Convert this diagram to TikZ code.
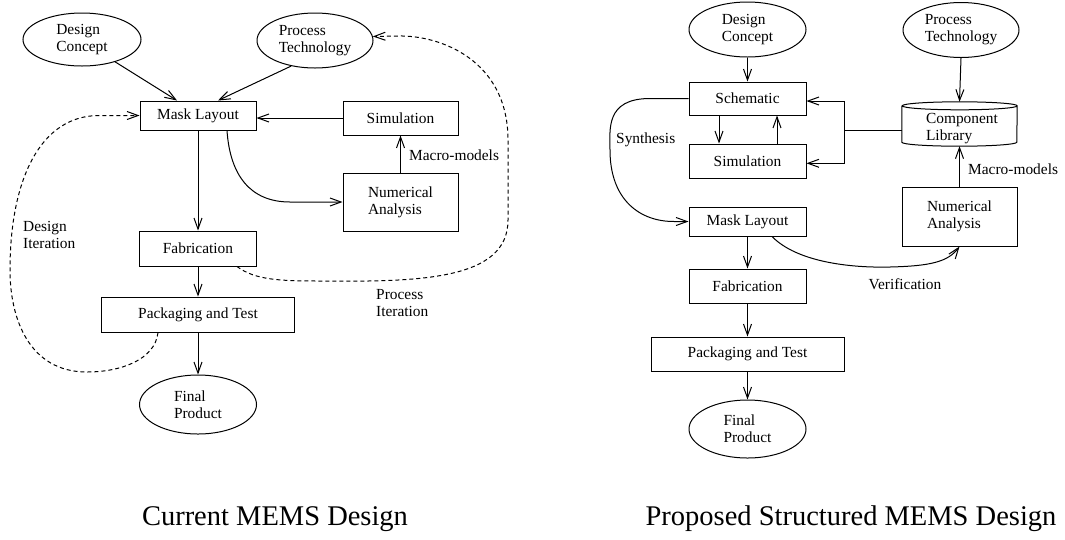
\documentclass[tikz,border=0pt]{standalone}
\usepackage{fontspec}
\setmainfont{Liberation Serif}
\usetikzlibrary{arrows.meta,shapes.geometric}
\begin{document}
\begin{tikzpicture}[x=1pt,y=-1pt,
  every node/.style={font=\fontsize{15.4}{17}\selectfont, inner sep=0pt},
  box/.style={draw, rectangle, line width=1pt},
  ell/.style={draw, ellipse, line width=1pt, align=left},
  txt/.style={align=left},
  arr/.style={line width=1pt, -{Straight Barb[length=11pt,width=8pt]}},
  ln/.style={line width=1pt},
  dsh/.style={line width=1pt, dash pattern=on 4pt off 3pt},
  lbl/.style={align=left, anchor=west},
  captxt/.style={font=\fontsize{28.5}{32}\selectfont}
]
\path[use as bounding box] (0,0) rectangle (1065,539);

% ---------------- Left: Current MEMS Design ----------------
\node[ell, minimum width=118pt, minimum height=53pt] (dc1) at (82,39.5) {Design\\Concept};
\node[ell, minimum width=116pt, minimum height=55pt] (pt1) at (315,40.5) {Process\\Technology};
\node[box, minimum width=116pt, minimum height=29pt] (ml1) at (198,115.5) {Mask Layout};
\node[box, minimum width=115pt, minimum height=34pt] (sim1) at (400.5,118) {Simulation};
\node[box, minimum width=115pt, minimum height=58pt, txt] (na1) at (400.5,202) {Numerical\\Analysis};
\node[box, minimum width=117pt, minimum height=35pt] (fab1) at (198,248.5) {Fabrication};
\node[box, minimum width=193pt, minimum height=35pt] (pk1) at (198,314.5) {Packaging and Test};
\node[ell, minimum width=117pt, minimum height=59pt] (fp1) at (198,404.5) {Final\\Product};

\draw[arr] (dc1.-34) -- ([xshift=-21pt]ml1.north);
\draw[arr] (pt1.227) -- ([xshift=20pt]ml1.north);
\draw[arr] (sim1.west) -- (sim1.west -| ml1.east);
\draw[arr] (na1.north) -- (sim1.south);
\node[lbl] (mm1) at (409,155) {Macro-models};
\draw[arr] ([xshift=29pt]ml1.south) .. controls (230,175) and (250,202) .. (290,202) -- (na1.west);
\draw[arr] (ml1.south) -- (fab1.north);
\draw[arr] (fab1.south) -- (pk1.north);
\draw[arr] (pk1.south) -- (fp1.north);

% design iteration
\draw[dsh, -{Straight Barb[length=11pt,width=8pt]}] ([xshift=-40pt]pk1.south)
  .. controls (155,360) and (120,372) .. (87,372)
  .. controls (30,372) and (10,320) .. (10,270)
  .. controls (10,180) and (40,115) .. (100,115.5) -- (ml1.west);
\node[lbl] (di1) at (23,235) {Design\\Iteration};

% process iteration
\draw[dsh, -{Straight Barb[length=11pt,width=8pt]}] ([xshift=39pt]fab1.south)
  .. controls (255,280) and (280,281) .. (320,281)
  .. controls (420,282) and (508,280) .. (508,220)
  -- (508,140)
  .. controls (508,60) and (440,35) .. (398,36) -- (pt1.4);
\node[lbl] (pi1) at (376,303) {Process\\Iteration};

\node[captxt] (c1) at (275,519) {Current MEMS Design};

% ---------------- Right: Proposed Structured MEMS Design ----------------
\node[ell, minimum width=117pt, minimum height=55pt] (dc2) at (747.5,29.5) {Design\\Concept};
\node[ell, minimum width=116pt, minimum height=55pt] (pt2) at (961,30) {Process\\Technology};
\node[box, minimum width=117pt, minimum height=33pt] (sch2) at (747.5,98.5) {Schematic};
\node[box, minimum width=117pt, minimum height=34pt] (sim2) at (747.5,161) {Simulation};
\node[minimum width=115pt, minimum height=44pt] (lib2) at (959.5,124) {};
\draw[ln] ([yshift=-4pt]lib2.north west) -- ([yshift=4pt]lib2.south west)
  arc[start angle=180, end angle=360, x radius=57.5pt, y radius=4pt]
  -- ([yshift=-4pt]lib2.north east)
  arc[start angle=0, end angle=360, x radius=57.5pt, y radius=4pt];
\node[txt] (libt) at (962,128.5) {Component\\Library};
\node[box, minimum width=115pt, minimum height=59pt, txt] (na2) at (959.5,216.5) {Numerical\\Analysis};
\node[box, minimum width=117pt, minimum height=29pt] (ml2) at (747.5,221.5) {Mask Layout};
\node[box, minimum width=117pt, minimum height=34pt] (fab2) at (747.5,286) {Fabrication};
\node[box, minimum width=193pt, minimum height=34pt] (pk2) at (747.5,354) {Packaging and Test};
\node[ell, minimum width=117pt, minimum height=58pt] (fp2) at (747.5,429) {Final\\Product};

\draw[arr] (dc2.south) -- (sch2.north);
\draw[arr] (pt2.south) -- (lib2.north);
\draw[arr] ([xshift=-28.5pt]sch2.south) -- ([xshift=-28.5pt]sim2.north);
\draw[arr] ([xshift=29.5pt]sim2.north) -- ([xshift=29.5pt]sch2.south);
\coordinate (jn) at (844,130);
\draw[ln] (jn -| lib2.west) -- (jn);
\draw[arr] (jn) |- ([yshift=-2.5pt]sch2.east);
\draw[arr] (jn) |- ([yshift=-2.3pt]sim2.east);
\draw[arr] (na2.north) -- (lib2.south);
\node[lbl] (mm2) at (968,169) {Macro-models};

\draw[arr] (sch2.west) -- (650,98.5) .. controls (605,98.5) and (610,130) .. (610,150)
  .. controls (610,200) and (640,222) .. (675,221.5) -- (ml2.west);
\node[lbl] (syn2) at (616,140) {Synthesis};

\draw[arr] (ml2.south) -- (fab2.north);
\draw[arr] (fab2.south) -- (pk2.north);
\draw[arr] (pk2.south) -- (fp2.north);

\draw[arr] ([xshift=24.5pt]ml2.south) .. controls (797,262) and (850,268) .. (890,267)
  .. controls (930,266) and (948,262) .. (na2.south);
\node (ver2) at (905,284) {Verification};

\node[captxt] (c2) at (851,519) {Proposed Structured MEMS Design};
\end{tikzpicture}
\end{document}
